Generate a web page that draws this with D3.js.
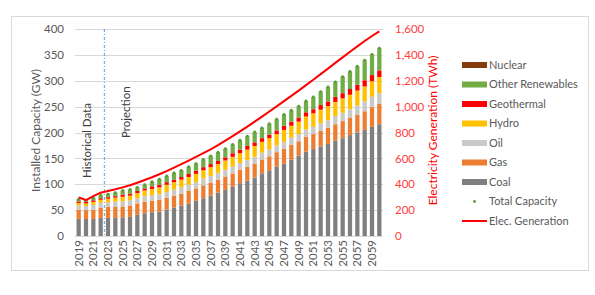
<!DOCTYPE html>
<html lang="en">
<head>
  <meta charset="UTF-8">
  <title>Capacity and generation</title>
  <script src="https://cdn.jsdelivr.net/npm/d3@7"></script>
  <style>
    body { margin: 0; background: #fff; }
    text { font-family: Lato, "Open Sans", sans-serif; }
  </style>
</head>
<body>
  <script>
    // years on the x axis
    const years = d3.range(2019, 2061);

    // installed capacity by source (GW)
    const coal = [33, 33, 33, 35, 35, 35, 35, 37, 41, 44, 46, 47, 51, 55, 59, 63, 68, 73, 78, 84, 89,
      95, 102, 107, 113, 121, 127, 134, 140, 148, 155, 163, 168, 173, 178, 184, 189, 195, 200, 205, 211, 216];
    const gas = [18, 17, 18, 20, 21, 21, 22, 22, 22, 22, 22, 23, 23, 23, 23, 24, 24, 25, 25, 25, 26,
      26, 26, 27, 27, 27, 27, 28, 28, 28, 28, 29, 29, 30, 31, 32, 33, 33, 34, 36, 38, 39];
    const oil = [8, 8, 9, 9, 9, 10, 10, 10, 10, 11, 11, 11, 11, 12, 12, 12, 12, 13, 13, 13, 13,
      13, 13, 13, 13, 13, 13, 13, 14, 14, 14, 14, 14, 15, 15, 16, 16, 17, 18, 19, 20, 21];
    const hydro = [5, 5, 6, 6, 7, 8, 9, 9, 10, 11, 12, 13, 14, 14, 15, 15, 16, 16, 17, 17, 18,
      19, 19, 20, 21, 21, 22, 22, 23, 23, 24, 25, 26, 26, 27, 27, 28, 28, 29, 29, 30, 31];
    const geothermal = [3, 3, 3, 3, 3, 3, 4, 4, 4, 4, 5, 5, 5, 5, 5, 6, 6, 6, 6, 6, 6,
      7, 7, 7, 7, 7, 7, 7, 8, 8, 8, 8, 8, 9, 9, 10, 10, 11, 11, 12, 12, 13];
    const otherRenewables = [4, 3, 5, 6, 6, 7, 8, 8, 7, 7, 9, 11, 12, 13, 13, 14, 14, 15, 16, 17, 17,
      17, 18, 19, 20, 20, 21, 22, 22, 22, 22, 22, 24, 26, 28, 29, 32, 34, 36, 39, 40, 43];
    const nuclear = years.map(() => 0);

    // total installed capacity (GW), green markers
    const totalCapacity = [71, 69, 74, 79, 81, 84, 88, 90, 94, 99, 105, 110, 116, 122, 127, 134, 140, 148, 155, 162, 169,
      177, 185, 193, 201, 209, 217, 226, 235, 243, 251, 261, 269, 279, 288, 298, 308, 318, 328, 340, 351, 363];

    // electricity generation (TWh), right axis
    const elecGeneration = [299, 278, 309, 335, 348, 361, 376, 392, 412, 433, 454, 477, 502, 529, 556, 583, 611, 640, 670, 702, 737,
      772, 808, 845, 884, 923, 962, 1002, 1042, 1083, 1124, 1166, 1208, 1251, 1294, 1338, 1381, 1424, 1466, 1507, 1546, 1582];

    const projectionStart = 2023;
    const leftTicks = [0, 50, 100, 150, 200, 250, 300, 350, 400];
    const rightTicks = [0, 200, 400, 600, 800, 1000, 1200, 1400, 1600];

    const seriesNames = ["Coal", "Gas", "Oil", "Hydro", "Geothermal", "Other Renewables", "Nuclear"];
    const seriesValues = [coal, gas, oil, hydro, geothermal, otherRenewables, nuclear];
    const colors = {
      "Coal": "#7f7f7f",
      "Gas": "#ed7d31",
      "Oil": "#c9c9c9",
      "Hydro": "#ffc000",
      "Geothermal": "#ff0000",
      "Other Renewables": "#70ad47",
      "Nuclear": "#843c0c"
    };

    const W = 595, H = 295;
    const plot = { left: 75, right: 383, top: 29, bottom: 236 };

    const svg = d3.select("body").append("svg")
      .attr("width", W)
      .attr("height", H);

    // chart frame
    svg.append("rect")
      .attr("x", 11.5).attr("y", 16.5)
      .attr("width", 577).attr("height", 254)
      .attr("fill", "#fff")
      .attr("stroke", "#d9d9d9");

    const x = d3.scaleBand()
      .domain(years)
      .range([plot.left, plot.right])
      .paddingInner(0.42)
      .paddingOuter(0.21);

    const y = d3.scaleLinear().domain([0, 400]).range([plot.bottom, plot.top]);
    const y2 = d3.scaleLinear().domain([0, 1600]).range([plot.bottom, plot.top]);

    // gridlines
    svg.append("g")
      .selectAll("line")
      .data(leftTicks)
      .join("line")
      .attr("x1", plot.left).attr("x2", plot.right)
      .attr("y1", d => Math.round(y(d)) + 0.5)
      .attr("y2", d => Math.round(y(d)) + 0.5)
      .attr("stroke", "#d9d9d9")
      .attr("stroke-width", 1);

    // left axis
    const leftAxis = svg.append("g")
      .attr("transform", `translate(${plot.left - 11},0)`)
      .call(d3.axisLeft(y).tickValues(leftTicks).tickSize(0).tickPadding(0));
    leftAxis.select(".domain").remove();
    leftAxis.selectAll("text")
      .attr("fill", "#595959")
      .style("font-size", "11.5px");

    // right axis
    const rightAxis = svg.append("g")
      .attr("transform", `translate(${plot.right + 12},0)`)
      .call(d3.axisRight(y2).tickValues(rightTicks).tickSize(0).tickPadding(0).tickFormat(d3.format(",")));
    rightAxis.select(".domain").remove();
    rightAxis.selectAll("text")
      .attr("fill", "#ff3c3c")
      .style("font-size", "11.5px");

    // x axis labels, every other year
    const xAxis = svg.append("g")
      .attr("transform", `translate(0,${plot.bottom + 4})`)
      .call(d3.axisBottom(x).tickValues(years.filter((d, i) => i % 2 === 0)).tickSize(0).tickPadding(0));
    xAxis.select(".domain").remove();
    xAxis.selectAll("text")
      .attr("fill", "#595959")
      .style("font-size", "11.5px")
      .attr("text-anchor", "end")
      .attr("dy", "0.35em")
      .attr("transform", "rotate(-90)")
      .attr("x", 0)
      .attr("y", 0);

    // stacked bars
    const table = years.map((yr, i) => {
      const row = { year: yr };
      seriesNames.forEach((s, k) => { row[s] = seriesValues[k][i]; });
      return row;
    });
    const stacked = d3.stack().keys(seriesNames)(table);

    svg.append("g")
      .selectAll("g")
      .data(stacked)
      .join("g")
      .attr("fill", d => colors[d.key])
      .selectAll("rect")
      .data(d => d)
      .join("rect")
      .attr("x", d => x(d.data.year))
      .attr("width", x.bandwidth())
      .attr("y", d => y(d[1]))
      .attr("height", d => y(d[0]) - y(d[1]));

    // historical / projection divider
    const divX = x(projectionStart) - x.step() * x.paddingInner() / 2;
    svg.append("line")
      .attr("x1", divX).attr("x2", divX)
      .attr("y1", plot.top).attr("y2", plot.bottom)
      .attr("stroke", "#5b9bd5")
      .attr("stroke-width", 1)
      .attr("stroke-dasharray", "3,2,1,2");

    svg.append("text")
      .attr("transform", `translate(${divX - 13},178) rotate(-90)`)
      .attr("fill", "#404040")
      .style("font-size", "11.5px")
      .text("Historical Data");

    svg.append("text")
      .attr("transform", `translate(${divX + 26},138) rotate(-90)`)
      .attr("fill", "#404040")
      .style("font-size", "11.5px")
      .text("Projection");

    // total capacity markers
    svg.append("g")
      .selectAll("circle")
      .data(totalCapacity)
      .join("circle")
      .attr("cx", (d, i) => x(years[i]) + x.bandwidth() / 2)
      .attr("cy", d => y(d))
      .attr("r", 1.4)
      .attr("fill", "#5a9a3a");

    // electricity generation line
    const line = d3.line()
      .x((d, i) => x(years[i]) + x.bandwidth() / 2)
      .y(d => y2(d));
    svg.append("path")
      .datum(elecGeneration)
      .attr("d", line)
      .attr("fill", "none")
      .attr("stroke", "#ff0000")
      .attr("stroke-width", 2);

    // axis titles
    svg.append("text")
      .attr("transform", `translate(40,${(plot.top + plot.bottom) / 2 - 2}) rotate(-90)`)
      .attr("text-anchor", "middle")
      .attr("fill", "#595959")
      .style("font-size", "12px")
      .text("Installed Capacity (GW)");

    svg.append("text")
      .attr("transform", `translate(437,${(plot.top + plot.bottom) / 2 - 2}) rotate(-90)`)
      .attr("text-anchor", "middle")
      .attr("fill", "#ff0000")
      .style("font-size", "12px")
      .text("Electricity Generation (TWh)");

    // legend
    const legendItems = ["Nuclear", "Other Renewables", "Geothermal", "Hydro", "Oil", "Gas", "Coal", "Total Capacity", "Elec. Generation"];
    const legend = svg.append("g").attr("transform", "translate(462,65)");
    legendItems.forEach((name, i) => {
      const g = legend.append("g").attr("transform", `translate(0,${i * 19.5})`);
      if (colors[name]) {
        g.append("rect").attr("x", 0).attr("y", -3).attr("width", 25).attr("height", 6).attr("fill", colors[name]);
      } else if (name === "Total Capacity") {
        g.append("circle").attr("cx", 12.5).attr("cy", 0).attr("r", 1.4).attr("fill", "#5a9a3a");
      } else {
        g.append("line").attr("x1", 0).attr("x2", 25).attr("y1", 0).attr("y2", 0)
          .attr("stroke", "#ff0000").attr("stroke-width", 2);
      }
      g.append("text")
        .attr("x", 27)
        .attr("dy", "0.35em")
        .attr("fill", "#595959")
        .style("font-size", "11px")
        .text(name);
    });
  </script>
</body>
</html>
